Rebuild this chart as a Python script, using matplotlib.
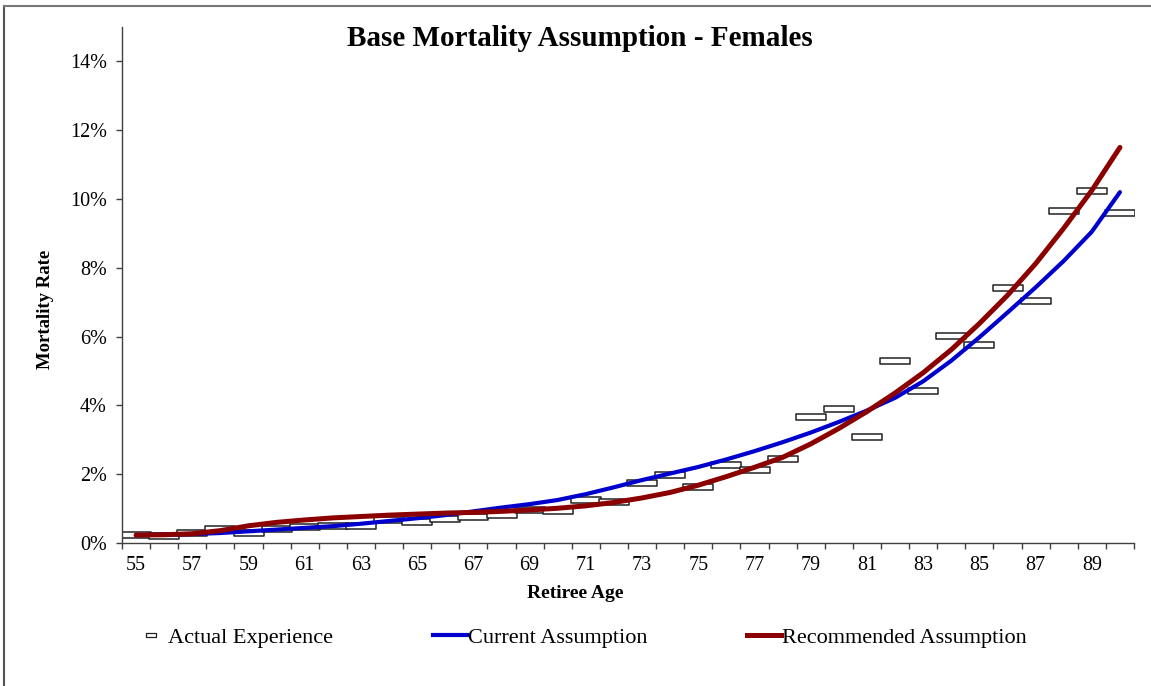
import numpy as np
import matplotlib.pyplot as plt
from matplotlib.path import Path
from matplotlib.lines import Line2D
from matplotlib.ticker import PercentFormatter

plt.rcParams['font.family'] = ['Liberation Serif', 'DejaVu Serif']

ages = np.arange(55, 91)

actual = [0.23, 0.21, 0.28, 0.42, 0.30, 0.41, 0.47, 0.50, 0.50, 0.68,
          0.61, 0.69, 0.77, 0.80, 0.97, 0.94, 1.26, 1.18, 1.75, 1.97,
          1.63, 2.27, 2.11, 2.43, 3.65, 3.90, 3.07, 5.30, 4.42, 6.02,
          5.76, 7.42, 7.03, 9.65, 10.24, 9.58]

current = [0.23, 0.24, 0.26, 0.29, 0.34, 0.39, 0.44, 0.49, 0.56, 0.64,
           0.72, 0.81, 0.92, 1.03, 1.13, 1.25, 1.42, 1.62, 1.83, 2.02,
           2.21, 2.43, 2.67, 2.93, 3.21, 3.52, 3.85, 4.22, 4.70, 5.30,
           5.98, 6.70, 7.43, 8.20, 9.05, 10.20]

recommended = [0.23, 0.24, 0.27, 0.36, 0.50, 0.60, 0.67, 0.73, 0.77, 0.81,
               0.84, 0.87, 0.89, 0.92, 0.96, 1.01, 1.08, 1.18, 1.31, 1.47,
               1.68, 1.93, 2.20, 2.49, 2.88, 3.33, 3.82, 4.36, 4.95, 5.62,
               6.38, 7.20, 8.12, 9.15, 10.25, 11.50]

actual = np.array(actual) / 100
current = np.array(current) / 100
recommended = np.array(recommended) / 100

W, H = 1151, 686
fig = plt.figure(figsize=(W / 100, H / 100), dpi=100)
ax = fig.add_axes([122 / W, 1 - 543 / H, (1134 - 122) / W, (543 - 27) / H])

# wide flat box marker, like the Excel dash marker
box = Path([(-1, -0.21), (1, -0.21), (1, 0.21), (-1, 0.21), (-1, -0.21)],
           [Path.MOVETO, Path.LINETO, Path.LINETO, Path.LINETO, Path.CLOSEPOLY])
small_box = Path([(-1, -0.5), (1, -0.5), (1, 0.5), (-1, 0.5), (-1, -0.5)],
                 [Path.MOVETO, Path.LINETO, Path.LINETO, Path.LINETO, Path.CLOSEPOLY])

ax.plot(ages, actual, ls='none', marker=box, ms=20.9, mfc='white',
        mec='#222222', mew=1.1, zorder=2)
ax.plot(ages, current, color='#0000CD', lw=3.0, solid_capstyle='round', zorder=3)
ax.plot(ages, recommended, color='#8B0000', lw=3.6, solid_capstyle='round', zorder=4)

ax.set_xlim(54.5, 90.5)
ax.set_ylim(0, 0.15)
ax.set_yticks(np.arange(0, 0.141, 0.02))
ax.yaxis.set_major_formatter(PercentFormatter(1.0, decimals=0))
ax.set_xticks(np.arange(54.5, 91, 1))
ax.set_xticklabels([])
ax.set_xticks(np.arange(55, 90, 2), minor=True)
ax.set_xticklabels([str(a) for a in range(55, 90, 2)], minor=True)

for s in ['top', 'right']:
    ax.spines[s].set_visible(False)
for s in ['left', 'bottom']:
    ax.spines[s].set_color('#404040')
    ax.spines[s].set_linewidth(1.0)

ax.tick_params(axis='y', which='major', length=4, width=1, color='#404040',
               pad=7, labelsize=14.5)
ax.tick_params(axis='x', which='major', length=4, width=1, color='#404040')
ax.tick_params(axis='x', which='minor', length=0, pad=9, labelsize=14.5)

fig.text(580 / W, 1 - 38 / H, 'Base Mortality Assumption - Females',
         ha='center', va='center', fontsize=21, fontweight='bold')
fig.text(45 / W, 1 - 309 / H, 'Mortality Rate', rotation=90,
         ha='center', va='center', fontsize=13.5, fontweight='bold')
fig.text(575 / W, 1 - 594 / H, 'Retiree Age',
         ha='center', va='center', fontsize=14, fontweight='bold')

handles = [
    Line2D([], [], ls='none', marker=small_box, ms=6.5, mfc='white',
           mec='#222222', mew=0.9),
    Line2D([], [], color='#0000CD', lw=3.0),
    Line2D([], [], color='#8B0000', lw=3.6),
]
labels = ['Actual Experience', 'Current Assumption', 'Recommended Assumption']
fig.legend(handles, labels, loc='center left',
           bbox_to_anchor=(134 / W, 1 - 638 / H), ncol=3, frameon=False,
           fontsize=16, handlelength=1.5, handletextpad=0.05,
           columnspacing=4.5, borderpad=0, borderaxespad=0)

# outer chart border
fig.add_artist(Line2D([4 / W, 4 / W], [0, 1 - 6 / H], color='#555555', lw=1.5))
fig.add_artist(Line2D([4 / W, 1], [1 - 6 / H, 1 - 6 / H], color='#777777', lw=1.5))

fig.savefig('out.png', dpi=100)
